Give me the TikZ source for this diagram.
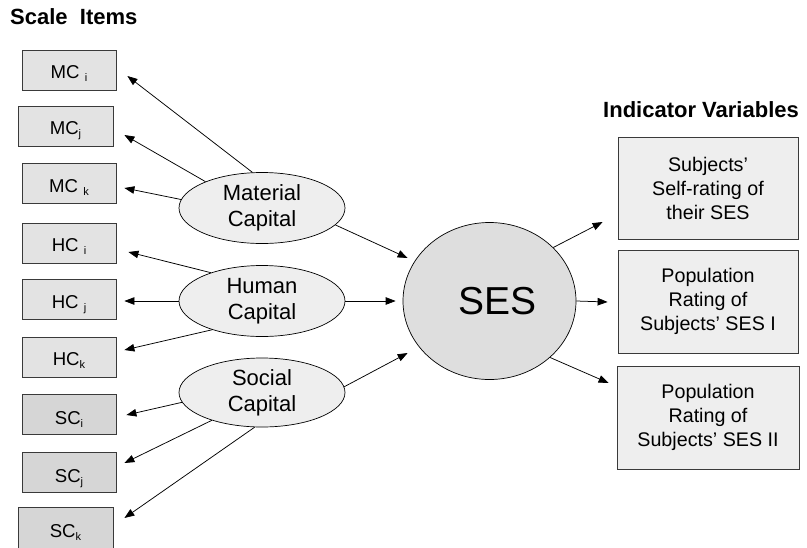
\documentclass[tikz,border=0pt]{standalone}
\usepackage{fontspec}
\setmainfont{Liberation Sans}
\usepackage{graphicx}
\usetikzlibrary{arrows.meta,shapes.geometric}
\definecolor{itemfill}{HTML}{E3E3E3}
\definecolor{socfill}{HTML}{D6D6D6}
\definecolor{indfill}{HTML}{EEEEEE}
\definecolor{latfill}{HTML}{EEEEEE}
\definecolor{sesfill}{HTML}{DEDEDE}
\definecolor{edgegray}{HTML}{3A3A3A}
\newcommand{\lidx}[1]{\raisebox{-3pt}{\fontsize{11}{11}\selectfont #1}}
\begin{document}
\begin{tikzpicture}[x=1pt,y=-1pt,
  itembox/.style={draw=edgegray, line width=0.8pt, fill=itemfill, minimum width=94pt, minimum height=40pt,
    inner sep=0pt, font=\fontsize{18.6}{20}\selectfont, text height=17pt, text depth=0pt},
  socbox/.style={itembox, fill=socfill, text height=20pt},
  indbox/.style={draw=edgegray, line width=0.8pt, fill=indfill, minimum width=180pt, minimum height=102pt,
    inner sep=0pt, align=center, font=\fontsize{19.7}{24}\selectfont},
  latent/.style={ellipse, draw=black, line width=0.7pt, fill=latfill, minimum width=166pt, minimum height=71pt,
    inner sep=0pt, align=center, font=\fontsize{22}{26}\selectfont},
  sesnode/.style={ellipse, draw=black, line width=0.7pt, fill=sesfill, minimum width=173pt, minimum height=157pt,
    inner sep=0pt, font=\fontsize{39}{40}\selectfont},
  header/.style={anchor=base west, inner sep=0pt, font=\fontsize{22}{24}\selectfont\bfseries},
  arr/.style={-{Triangle[length=10pt,width=7.5pt]}, line width=0.75pt, draw=black}
]
\useasboundingbox (0,0) rectangle (807,547);

% headers
\node[header] (hdrscale) at (10,24) {Scale\ \ Items};
\node[header] (hdrind) at (603,117) {Indicator Variables};

% scale items
\node[itembox] (mci) at (69,70) {MC \lidx{i}};
\node[itembox, minimum width=95pt] (mcj) at (65.5,126) {MC\lidx{j}};
\node[itembox] (mck) at (69,183.5) {MC \lidx{k}};
\node[itembox] (hci) at (69,243) {HC \lidx{i}};
\node[itembox] (hcj) at (69,299.5) {HC \lidx{j}};
\node[itembox] (hck) at (69,357) {HC\lidx{k}};
\node[socbox] (sci) at (69,414) {SC\lidx{i}};
\node[socbox] (scj) at (69,472) {SC\lidx{j}};
\node[socbox, minimum width=95pt, minimum height=41pt] (sck) at (65.5,527.5) {SC\lidx{k}};

% latent capitals
\node[latent] (mat) at (262,208) {Material\\Capital};
\node[latent] (hum) at (262,301) {Human\\Capital};
\node[latent, minimum height=69pt] (soc) at (262,392.5) {Social\\Capital};

% SES
\node[sesnode] (ses) at (489.5,301) {\hspace*{16pt}SES};

% indicator variables
\node[indbox] (ind1) at (708,188) {Subjects’\\Self-rating of\\their SES};
\node[indbox, minimum height=103pt] (ind2) at (708,301.5) {Population\\Rating of\\Subjects’ SES I};
\node[indbox, minimum width=182pt, minimum height=103pt] (ind3) at (708,417.5) {Population\\Rating of\\Subjects’ SES II};

% arrows to scale items
\draw[arr] (mat.105) -- ([shift={(11pt,-6pt)}]mci.east);
\draw[arr] (mat.155) -- ([shift={(11pt,-9pt)}]mcj.east);
\draw[arr] (mat.174) -- ([shift={(8pt,-4.5pt)}]mck.east);
\draw[arr] (hum.151) -- ([shift={(12pt,-9pt)}]hci.east);
\draw[arr] (hum.west) -- ([shift={(8pt,-1.5pt)}]hcj.east);
\draw[arr] (hum.210) -- ([shift={(8pt,7pt)}]hck.east);
\draw[arr] (soc.187) -- ([shift={(10pt,-1pt)}]sci.east);
\draw[arr] (soc.209) -- ([shift={(8pt,9pt)}]scj.east);
\draw[arr] (soc.258) -- ([shift={(11pt,9.5pt)}]sck.east);

% arrows to SES
\draw[arr] (mat.-13) -- ([shift={(5pt,43pt)}]ses.west);
\draw[arr] (hum.east) -- ([shift={(-7pt,0pt)}]ses.west);
\draw[arr] (soc.4) -- ([shift={(5pt,-52pt)}]ses.west);

% arrows to indicators
\draw[arr] (ses.40) -- ([shift={(-15pt,-34pt)}]ind1.west);
\draw[arr] (ses.east) -- ([shift={(-10pt,-0.5pt)}]ind2.west);
\draw[arr] (ses.-43) -- ([shift={(-8pt,34.5pt)}]ind3.west);
\end{tikzpicture}
\end{document}
